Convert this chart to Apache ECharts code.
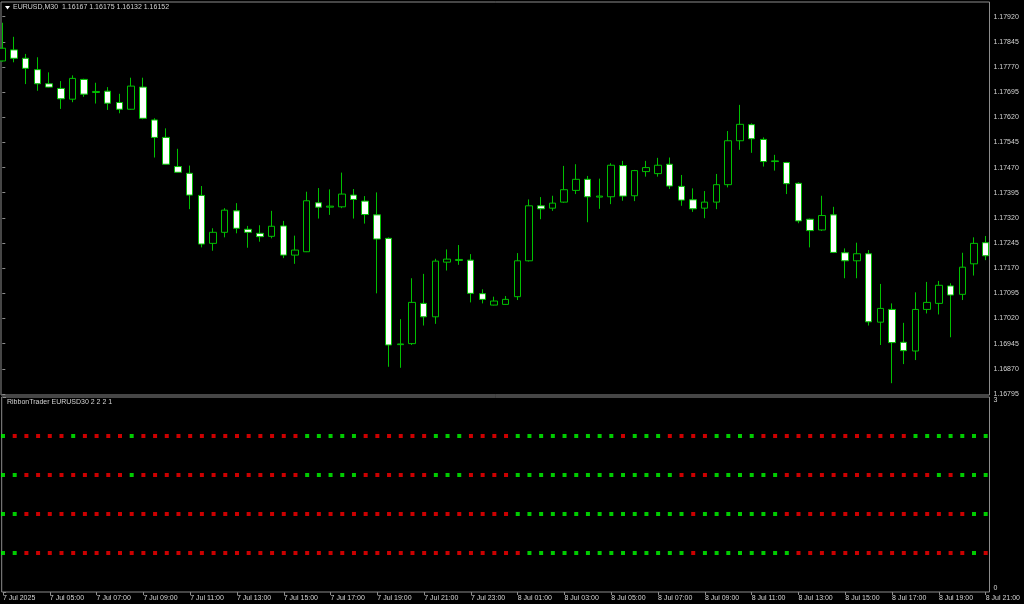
<!DOCTYPE html>
<html><head><meta charset="utf-8">
<script src="https://cdn.jsdelivr.net/npm/echarts@6/dist/echarts.min.js"></script>
<style>html,body{margin:0;padding:0;background:#000;}#c{width:1024px;height:604px;}</style>
</head><body><div id="c"></div>
<script>
const symbolTitle = 'EURUSD,M30  1.16167 1.16175 1.16132 1.16152';
const indicatorTitle = 'RibbonTrader EURUSD30 2 2 2 1';

const opens = [1.17788,1.17821,1.17796,1.17762,1.17720,1.17706,1.17674,1.17733,1.17694,1.17698,
1.17664,1.17644,1.17710,1.17612,1.17560,1.17473,1.17453,1.17387,1.17244,1.17277,
1.17341,1.17286,1.17274,1.17265,1.17296,1.17209,1.17219,1.17365,1.17352,1.17353,
1.17388,1.17370,1.17329,1.17259,1.16942,1.16945,1.17065,1.17025,1.17188,1.17193,
1.17194,1.17094,1.17060,1.17062,1.17085,1.17192,1.17356,1.17349,1.17367,1.17402,
1.17435,1.17382,1.17383,1.17476,1.17386,1.17458,1.17452,1.17480,1.17414,1.17374,
1.17349,1.17367,1.17419,1.17550,1.17598,1.17554,1.17488,1.17485,1.17423,1.17316,
1.17284,1.17329,1.17216,1.17192,1.17213,1.17009,1.17047,1.16949,1.16923,1.17047,
1.17065,1.17117,1.17092,1.17183,1.17246];
const closes = [1.17826,1.17796,1.17766,1.17720,1.17710,1.17675,1.17736,1.17689,1.17697,1.17662,
1.17644,1.17713,1.17617,1.17560,1.17480,1.17456,1.17388,1.17242,1.17277,1.17343,
1.17289,1.17277,1.17264,1.17295,1.17209,1.17224,1.17371,1.17352,1.17355,1.17391,
1.17375,1.17330,1.17257,1.16941,1.16944,1.17068,1.17025,1.17191,1.17197,1.17196,
1.17095,1.17077,1.17072,1.17077,1.17192,1.17356,1.17347,1.17364,1.17404,1.17435,
1.17383,1.17385,1.17477,1.17385,1.17461,1.17470,1.17477,1.17415,1.17373,1.17347,
1.17367,1.17419,1.17550,1.17599,1.17556,1.17488,1.17490,1.17422,1.17311,1.17282,
1.17327,1.17217,1.17192,1.17213,1.17010,1.17050,1.16948,1.16924,1.17047,1.17068,
1.17119,1.17090,1.17173,1.17244,1.17207];
const lows = [1.17786,1.17784,1.17719,1.17699,1.17709,1.17645,1.17665,1.17681,1.17661,1.17642,
1.17632,1.17643,1.17614,1.17500,1.17478,1.17455,1.17346,1.17232,1.17222,1.17262,
1.17274,1.17231,1.17249,1.17259,1.17200,1.17183,1.17218,1.17318,1.17329,1.17349,
1.17318,1.17303,1.17095,1.16876,1.16873,1.16941,1.16999,1.17004,1.17163,1.17180,
1.17068,1.17065,1.17059,1.17061,1.17075,1.17190,1.17316,1.17341,1.17365,1.17391,
1.17307,1.17347,1.17361,1.17371,1.17370,1.17443,1.17443,1.17406,1.17356,1.17338,
1.17319,1.17346,1.17411,1.17523,1.17514,1.17473,1.17461,1.17391,1.17304,1.17232,
1.17281,1.17215,1.17140,1.17140,1.16999,1.16941,1.16827,1.16884,1.16896,1.17035,
1.17032,1.16964,1.17075,1.17148,1.17194];
const highs = [1.17902,1.17860,1.17809,1.17799,1.17754,1.17728,1.17745,1.17735,1.17723,1.17710,
1.17690,1.17738,1.17738,1.17617,1.17587,1.17526,1.17476,1.17415,1.17289,1.17349,
1.17364,1.17296,1.17298,1.17341,1.17311,1.17267,1.17398,1.17409,1.17405,1.17455,
1.17406,1.17385,1.17396,1.17262,1.17018,1.17140,1.17153,1.17198,1.17226,1.17239,
1.17212,1.17107,1.17085,1.17087,1.17215,1.17375,1.17382,1.17386,1.17475,1.17480,
1.17445,1.17437,1.17483,1.17490,1.17463,1.17490,1.17499,1.17500,1.17448,1.17408,
1.17400,1.17451,1.17579,1.17657,1.17602,1.17560,1.17508,1.17487,1.17426,1.17318,
1.17386,1.17353,1.17229,1.17246,1.17224,1.17123,1.17065,1.17007,1.17098,1.17129,
1.17132,1.17125,1.17216,1.17262,1.17266];

const timeLabels = ['7 Jul 2025','7 Jul 05:00','7 Jul 07:00','7 Jul 09:00','7 Jul 11:00','7 Jul 13:00',
'7 Jul 15:00','7 Jul 17:00','7 Jul 19:00','7 Jul 21:00','7 Jul 23:00','8 Jul 01:00','8 Jul 03:00',
'8 Jul 05:00','8 Jul 07:00','8 Jul 09:00','8 Jul 11:00','8 Jul 13:00','8 Jul 15:00','8 Jul 17:00',
'8 Jul 19:00','8 Jul 21:00'];
const barsPerLabel = 4;
const priceTicks = [1.16795,1.16870,1.16945,1.17020,1.17095,1.17170,1.17245,1.17320,1.17395,
1.17470,1.17545,1.17620,1.17695,1.17770,1.17845,1.17920];
const indicatorTicks = [0, 3];

// ribbon states: 1 = green, 0 = red
const ribbonLevels = [2.4, 1.8, 1.2, 0.6];
const ribbon1 = [1,0,0,0,0,0,1,0,0,0,0,1,0,0,0,0,0,0,0,0,0,0,0,0,0,0,1,1,1,1,1,0,0,0,0,0,0,1,1,1,0,0,0,0,
1,1,1,1,1,1,1,1,1,0,1,1,1,0,0,0,0,1,1,1,1,0,0,0,0,0,0,0,0,0,0,0,0,0,1,1,1,1,1,1,1];
const ribbon2 = [1,1,0,0,0,0,0,0,0,0,0,1,0,0,0,0,0,0,0,0,0,0,0,0,0,0,1,1,1,1,1,0,0,0,0,0,0,1,1,1,0,0,0,0,
1,1,1,1,1,1,1,1,1,1,1,1,1,1,0,0,0,1,1,1,1,1,1,0,0,0,0,0,0,0,0,0,0,0,0,0,1,0,1,1,1];
const ribbon3 = [1,1,0,0,0,0,0,0,0,0,0,0,0,0,0,0,0,0,0,0,0,0,0,0,0,0,0,0,0,0,0,0,0,0,0,0,0,0,0,0,0,0,0,0,
1,1,1,1,1,1,1,1,1,1,1,1,1,1,1,0,1,1,1,1,1,1,1,0,0,0,0,0,0,0,0,0,0,0,0,0,0,0,0,1,1];
const ribbon4 = [1,1,0,0,0,0,0,0,0,0,0,0,0,0,0,0,0,0,0,0,0,0,0,0,0,0,0,0,0,0,0,0,0,0,0,0,0,0,0,0,0,0,0,0,
0,1,1,1,1,1,1,1,1,1,1,1,1,1,1,0,1,1,1,1,1,1,1,1,0,0,0,0,0,0,0,0,0,0,0,0,0,0,0,1,0];
const ribbonRows = [ribbon1, ribbon2, ribbon3, ribbon4];

const candleData = opens.map((o, i) => [i, o, closes[i], lows[i], highs[i]]);
const dotData = [];
ribbonRows.forEach((row, r) => row.forEach((s, i) => {
  dotData.push({value: [i, ribbonLevels[r]], itemStyle: {color: s ? '#00ff00' : '#ff0000'}});
}));
const labelIdx = timeLabels.map((_, k) => k * barsPerLabel);

const FONT = 'Liberation Sans';
const TXT = '#d4d4d4';
const FRAME = '#8c8c8c';
const xMin = -0.111, xMax = 84.326;

const chart = echarts.init(document.getElementById('c'), null, {renderer: 'canvas'});
chart.setOption({
  backgroundColor: '#000',
  animation: false,
  grid: [
    {left: 1, top: 2, width: 988.5, height: 393, show: true, borderColor: FRAME, borderWidth: 1, backgroundColor: 'transparent'},
    {left: 1, top: 397, width: 988.5, height: 195, show: true, borderColor: FRAME, borderWidth: 1, backgroundColor: 'transparent'}
  ],
  xAxis: [
    {type: 'value', gridIndex: 0, min: xMin, max: xMax, show: false, splitLine: {show: false}},
    {type: 'value', gridIndex: 1, min: xMin, max: xMax, splitLine: {show: false},
     axisLine: {show: false},
     axisTick: {show: true, length: 3, lineStyle: {color: FRAME}, customValues: labelIdx},
     axisLabel: {show: true, customValues: labelIdx, color: TXT, fontFamily: FONT, fontSize: 7, margin: 3, align: 'left',
       formatter: v => timeLabels[Math.round(v / barsPerLabel)] || ''}}
  ],
  yAxis: [
    {type: 'value', gridIndex: 0, position: 'right', min: 1.167918, max: 1.179638, splitLine: {show: false},
     axisLine: {show: false},
     axisTick: {show: true, length: 3, lineStyle: {color: FRAME}, customValues: priceTicks},
     axisLabel: {show: true, customValues: priceTicks, color: TXT, fontFamily: FONT, fontSize: 7, margin: 4,
       formatter: v => v.toFixed(5)}},
    {type: 'value', gridIndex: 1, position: 'right', min: 0, max: 3, splitLine: {show: false},
     axisLine: {show: false},
     axisTick: {show: true, length: 3, lineStyle: {color: FRAME}, customValues: indicatorTicks},
     axisLabel: {show: true, customValues: indicatorTicks, color: TXT, fontFamily: FONT, fontSize: 7, margin: 4,
       verticalAlignMinLabel: 'bottom', verticalAlignMaxLabel: 'top',
       formatter: v => String(v)}}
  ],
  series: [
    {type: 'candlestick', xAxisIndex: 0, yAxisIndex: 0, barWidth: 7, clip: true,
     dimensions: ['idx', 'open', 'close', 'lowest', 'highest'],
     encode: {x: 'idx', y: ['open', 'close', 'lowest', 'highest']},
     itemStyle: {color: '#000000', color0: '#ffffff', borderColor: '#00c000', borderColor0: '#00c000', borderColorDoji: '#00c000', borderWidth: 1},
     data: candleData},
    {type: 'scatter', xAxisIndex: 1, yAxisIndex: 1, symbol: 'rect', symbolSize: 4, silent: true,
     data: dotData}
  ],
  graphic: [
    {type: 'polygon', shape: {points: [[5, 6], [10, 6], [7.5, 9.5]]}, style: {fill: '#ffffff'}},
    {type: 'text', left: 13, top: 4, style: {text: symbolTitle, fill: TXT, font: '7px "Liberation Sans"'}},
    {type: 'text', left: 7, top: 399, style: {text: indicatorTitle, fill: TXT, font: '7px "Liberation Sans"'}}
  ]
});
</script></body></html>
